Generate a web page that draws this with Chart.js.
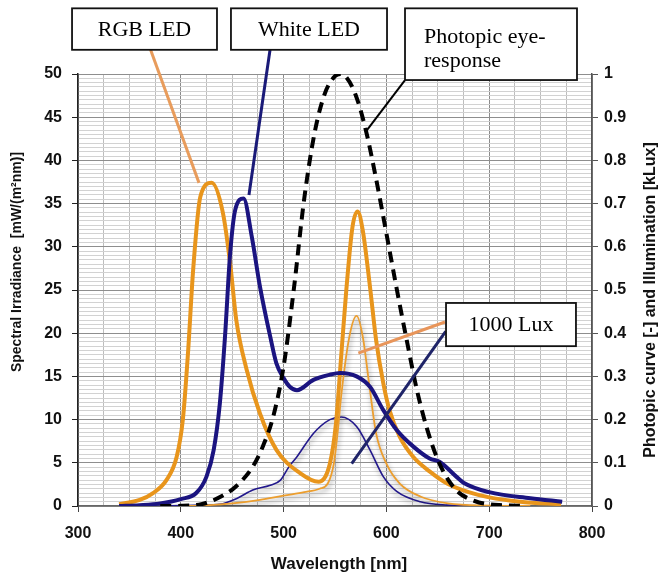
<!DOCTYPE html>
<html><head><meta charset="utf-8">
<script src="https://cdn.jsdelivr.net/npm/chart.js@4.4.0/dist/chart.umd.min.js"></script>
<style>html,body{margin:0;padding:0;background:#fff;}canvas{display:block;}</style>
</head><body>
<canvas id="c" width="665" height="577"></canvas>
<script>
// ---- data (wavelength in nm, values in mW/(m^2 nm) or photopic 0..1) ----
const rgbLedWl  = [340,360,373,386,396,402,407,412,419,430,441,448,454,464,477,493,516,534,545,551,556,561,567,572,577,584,590,597,603,613,626,642,659,680,700,730,770];
const rgbLedVal = [0.2,0.7,1.5,3.0,5.7,10.0,17.7,27.3,35.8,37.4,33.9,28.1,21.5,15.8,10.7,6.5,3.8,2.8,4.9,9.6,17.3,25.0,32.3,34.1,31.9,25.4,19.2,14.2,11.1,8.0,5.7,4.0,2.6,1.6,1.0,0.5,0.2];

const whiteLedWl  = [340,360,380,400,415,425,432,438,443,448,453,461,469,477,487,493,500,506,513,529,545,555,571,584,597,610,626,642,652,668,675,700,740,771];
const whiteLedVal = [0,0.1,0.3,0.8,1.5,3.4,6.5,11.9,19.6,29.2,34.3,35.6,31.2,25.4,19.6,16.5,14.8,13.8,13.4,14.6,15.2,15.4,15.0,13.8,11.1,8.8,6.9,5.5,5.1,3.4,2.7,1.6,0.9,0.5];

const whiteLuxWl  = [380,400,420,438,455,470,487,497,505,513,529,545,556,571,584,597,610,633,659,690];
const whiteLuxVal = [0,0.05,0.1,0.2,0.9,1.85,2.4,3.0,4.5,5.7,8.4,10.0,10.3,9.2,6.5,3.4,1.7,0.5,0.1,0];

const rgbLuxWl  = [400,420,450,477,500,520,535,543,549,553,556,564,571,577,584,590,600,613,633,660,700,740];
const rgbLuxVal = [0,0.05,0.3,0.7,1.2,1.6,2.0,2.6,5.0,9.0,12.7,19.6,22.0,19.6,13.4,8.4,4.9,2.6,1.1,0.3,0.05,0];

const photopicWl  = [380,390,400,410,420,430,440,450,460,470,480,490,500,510,520,530,540,550,555,560,570,580,590,600,610,620,630,640,650,660,670,680,690,700,710,720,730];
const photopicVal = [0.00004,0.00012,0.0004,0.0012,0.004,0.0116,0.023,0.038,0.06,0.091,0.139,0.208,0.323,0.503,0.71,0.862,0.954,0.995,1.0,0.995,0.952,0.87,0.757,0.631,0.503,0.381,0.265,0.175,0.107,0.061,0.032,0.017,0.0082,0.0041,0.0021,0.00105,0.00052];

const xTickLabels = [300,400,500,600,700,800];
const yLeftLabels = [0,5,10,15,20,25,30,35,40,45,50];
const yRightLabels = [0,0.1,0.2,0.3,0.4,0.5,0.6,0.7,0.8,0.9,1];

const calloutTexts = ['RGB LED','White LED',['Photopic eye-','response'],'1000 Lux'];

const pts = (w,v)=>w.map((x,i)=>({x:x,y:v[i]}));

// annotation geometry in data units (nm, left-axis value)
const boxes = [
  {x0:294.2,x1:435.2,y0:57.6,y1:52.8,text:calloutTexts[0]},
  {x0:448.8,x1:600.6,y0:57.6,y1:52.8,text:calloutTexts[1]},
  {x0:618.1,x1:785.4,y0:57.6,y1:49.3,text:calloutTexts[2]},
  {x0:658.0,x1:784.4,y0:23.5,y1:18.5,text:calloutTexts[3]}
];
const leaders = [
  {a:[370.6,52.8],b:[417.7,37.4],c:'#E89C5C',w:3},
  {a:[486.8,52.8],b:[466.3,36.0],c:'#1A1A78',w:3},
  {a:[618.1,49.3],b:[581.1,43.5],c:'#000',w:2},
  {a:[657.0,21.3],b:[572.7,17.7],c:'#E8955A',w:3},
  {a:[657.7,20.2],b:[566.2,4.9],c:'#1F2468',w:3}
];

const shadowPlugin = {
  id:'shadow',
  beforeDatasetDraw(chart,args){
    const ds = chart.data.datasets[args.index];
    if(ds.shadow){const c=chart.ctx;c.save();c.shadowColor='rgba(0,0,0,0.4)';c.shadowBlur=5;c.shadowOffsetX=1;c.shadowOffsetY=3;}
  },
  afterDatasetDraw(chart,args){
    const ds = chart.data.datasets[args.index];
    if(ds.shadow){chart.ctx.restore();}
  }
};

const annotPlugin = {
  id:'annot',
  afterDraw(chart){
    const ctx=chart.ctx, xs=chart.scales.x, ys=chart.scales.y;
    const X=v=>xs.getPixelForValue(v), Y=v=>ys.getPixelForValue(v);
    ctx.save();
    ctx.lineCap='butt';
    leaders.forEach(l=>{
      ctx.strokeStyle=l.c;ctx.lineWidth=l.w;ctx.beginPath();
      ctx.moveTo(X(l.a[0]),Y(l.a[1]));ctx.lineTo(X(l.b[0]),Y(l.b[1]));ctx.stroke();
    });
    boxes.forEach(b=>{
      const x0=X(b.x0),x1=X(b.x1),y0=Y(b.y0),y1=Y(b.y1);
      ctx.fillStyle='#fff';ctx.fillRect(x0,y0,x1-x0,y1-y0);
      ctx.strokeStyle='#111';ctx.lineWidth=1.8;ctx.strokeRect(x0,y0,x1-x0,y1-y0);
      ctx.fillStyle='#000';ctx.font='22px "Liberation Serif", "Times New Roman", serif';
      if(Array.isArray(b.text)){
        ctx.textAlign='left';ctx.textBaseline='alphabetic';
        ctx.fillText(b.text[0],x0+19,y0+35);
        ctx.fillText(b.text[1],x0+19,y0+59);
      } else {
        ctx.textAlign='center';ctx.textBaseline='middle';
        ctx.fillText(b.text,(x0+x1)/2,(y0+y1)/2+1);
      }
    });
    // axis titles
    ctx.fillStyle='#111';
    ctx.font='bold 17px "Liberation Sans", Arial, sans-serif';
    ctx.textAlign='center';ctx.textBaseline='middle';
    ctx.fillText('Wavelength [nm]',(chart.chartArea.left+chart.chartArea.right)/2+4,564);
    ctx.save();
    ctx.translate(17,262);ctx.rotate(-Math.PI/2);
    ctx.font='bold 14px "Liberation Sans", Arial, sans-serif';
    ctx.fillText('Spectral Irradiance  [mW/(m²nm)]',0,0);
    ctx.restore();
    ctx.save();
    ctx.translate(651,300);ctx.rotate(-Math.PI/2);
    ctx.font='bold 16px "Liberation Sans", Arial, sans-serif';
    ctx.fillText('Photopic curve [-] and Illumination [kLux]',0,0);
    ctx.restore();
    ctx.restore();
  }
};

const ORANGE='#E8951C', BLUE='#1B1480';
const tickFont={family:'"Liberation Sans", Arial, sans-serif',size:16,weight:'bold'};

new Chart(document.getElementById('c'),{
  type:'line',
  data:{datasets:[
    {label:'Photopic',data:pts(photopicWl,photopicVal),yAxisID:'y1',borderColor:'#000',borderWidth:4,borderDash:[11,7],pointRadius:0,cubicInterpolationMode:'monotone',order:0,fill:false},
    {label:'White LED',data:pts(whiteLedWl,whiteLedVal),yAxisID:'y',borderColor:BLUE,borderWidth:4,pointRadius:0,cubicInterpolationMode:'monotone',order:1},
    {label:'RGB LED',data:pts(rgbLedWl,rgbLedVal),yAxisID:'y',borderColor:ORANGE,borderWidth:4,pointRadius:0,cubicInterpolationMode:'monotone',order:2},
    {label:'RGB 1000 Lux',data:pts(rgbLuxWl,rgbLuxVal),yAxisID:'y',borderColor:'#EC9E2E',borderWidth:1.8,pointRadius:0,cubicInterpolationMode:'monotone',order:3,shadow:true},
    {label:'White 1000 Lux',data:pts(whiteLuxWl,whiteLuxVal),yAxisID:'y',borderColor:'#22188C',borderWidth:1.6,pointRadius:0,cubicInterpolationMode:'monotone',order:4,shadow:true}
  ]},
  options:{
    responsive:false,animation:false,
    layout:{padding:{top:74,left:0,right:0,bottom:0}},
    plugins:{legend:{display:false},tooltip:{enabled:false}},
    scales:{
      x:{type:'linear',min:300,max:800,
        ticks:{stepSize:25,autoSkip:false,maxRotation:0,padding:12,color:'#111',font:tickFont,
          callback:v=>xTickLabels.includes(v)?String(v):''},
        grid:{color:c=>(c.tick&&c.tick.value%100===0)?'#8a8a8a':'#bdbdbd',lineWidth:1,tickLength:6,
          tickColor:c=>(c.tick&&c.tick.value%100===0)?'#444':'rgba(0,0,0,0)'},
        border:{color:'#666',width:1.5},
        afterFit:s=>{s.height=71;}
      },
      y:{type:'linear',position:'left',min:0,max:50,
        ticks:{stepSize:0.5,autoSkip:false,padding:10,color:'#111',font:tickFont,maxTicksLimit:1000,
          callback:v=>yLeftLabels.includes(v)?String(v):''},
        grid:{color:c=>(c.tick&&c.tick.value%5===0)?'#8e8e8e':'#d2d2d2',lineWidth:1,tickLength:6,
          tickColor:c=>(c.tick&&c.tick.value%5===0)?'#222':'rgba(0,0,0,0)'},
        border:{color:'#222',width:1.5},
        afterFit:s=>{s.width=78;}
      },
      y1:{type:'linear',position:'right',min:0,max:1,
        ticks:{stepSize:0.1,autoSkip:false,padding:6,color:'#111',font:tickFont,
          callback:v=>{const r=Math.round(v*10)/10;return yRightLabels.includes(r)?String(r):'';}},
        grid:{drawOnChartArea:false,tickLength:6,tickColor:'#555'},
        border:{color:'#555',width:1.5},
        afterFit:s=>{s.width=73;}
      }
    }
  },
  plugins:[shadowPlugin,annotPlugin]
});
</script>
</body></html>
